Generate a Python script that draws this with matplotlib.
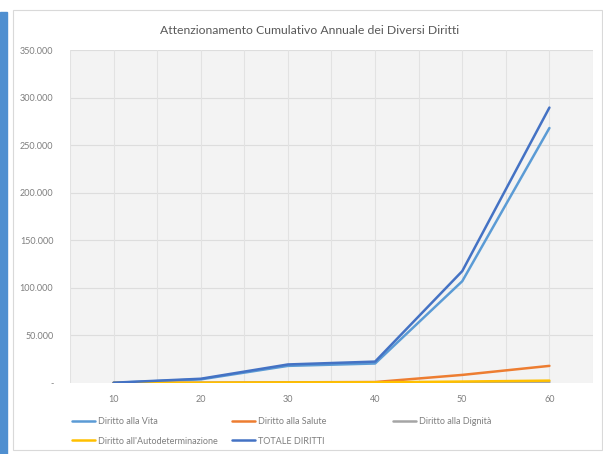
import matplotlib.pyplot as plt
from matplotlib.patches import Rectangle
from matplotlib.ticker import FuncFormatter

plt.rcParams['font.family'] = ['Lato', 'DejaVu Sans']

anni = ['10', '20', '30', '40', '50', '60']
vita = [200, 3800, 18000, 20500, 107000, 268000]
salute = [50, 300, 700, 1000, 8500, 18000]
dignita = [20, 80, 200, 300, 600, 1000]
autodeterminazione = [50, 300, 600, 700, 1500, 2500]
totale = [320, 4480, 19500, 22500, 117600, 289500]

serie = [
    ('Diritto alla Vita', vita, '#5B9BD5'),
    ('Diritto alla Salute', salute, '#ED7D31'),
    ('Diritto alla Dignità', dignita, '#A5A5A5'),
    ("Diritto all'Autodeterminazione", autodeterminazione, '#FFC000'),
    ('TOTALE DIRITTI', totale, '#4472C4'),
]

W, H = 603, 454
fig = plt.figure(figsize=(W / 100, H / 100), dpi=100)

# barra blu a sinistra e cornice del grafico
fig.patches.append(Rectangle((0, 0), 7 / W, 1 - 12 / H, transform=fig.transFigure,
                             color='#4F8FD0', zorder=-2))
fig.patches.append(Rectangle((13 / W, 4 / H), (W - 14) / W, (H - 14) / H,
                             transform=fig.transFigure, facecolor='white',
                             edgecolor='#D9D9D9', lw=0.8, zorder=-2))

left, right, top, bottom = 70, 593, 50, 383
ax = fig.add_axes([left / W, 1 - bottom / H, (right - left) / W, (bottom - top) / H])
ax.set_zorder(1)
ax.set_facecolor('#F3F3F3')

x = range(len(anni))
linee = []
for nome, valori, colore in serie:
    l, = ax.plot(x, valori, color=colore, lw=1.8, label=nome, solid_capstyle='round')
    linee.append(l)

ax.set_xlim(-0.5, len(anni) - 0.5)
ax.set_ylim(0, 350000)
ax.set_yticks(range(0, 350001, 50000))
ax.yaxis.set_major_formatter(FuncFormatter(
    lambda v, p: '-' if v == 0 else f'{int(v):,}'.replace(',', '.')))
ax.set_xticks(list(x))
ax.set_xticklabels(anni)

# griglia: orizzontale ogni 50.000, verticale ogni mezza categoria
for v in range(50000, 350001, 50000):
    ax.axhline(v, color='#DDDDDD', lw=0.8, zorder=0)
for k in range(0, 2 * len(anni) + 1):
    ax.axvline(-0.5 + k * 0.5, color='#E2E2E2', lw=0.8, zorder=0)

for s in ax.spines.values():
    s.set_visible(False)
ax.tick_params(length=0, labelsize=6.5, colors='#7F7F7F')
ax.tick_params(axis='x', pad=9)
ax.tick_params(axis='y', pad=12)

fig.text(310 / W, 1 - 31 / H, 'Attenzionamento Cumulativo Annuale dei Diversi Diritti',
         ha='center', va='center', fontsize=8.8, color='#595959')

# legenda su due righe, colonne a larghezza fissa
posizioni = [(72, 422), (232, 422), (393, 422), (72, 441), (232, 441)]
for linea, (px, py) in zip(linee, posizioni):
    fig.legend(handles=[linea], labels=[linea.get_label()], loc='center left',
               bbox_to_anchor=(px / W, 1 - py / H), frameon=False, fontsize=6.5,
               handlelength=2.5, handletextpad=0.4, borderpad=0, borderaxespad=0,
               labelcolor='#7F7F7F')

fig.savefig('out.png', dpi=100)
